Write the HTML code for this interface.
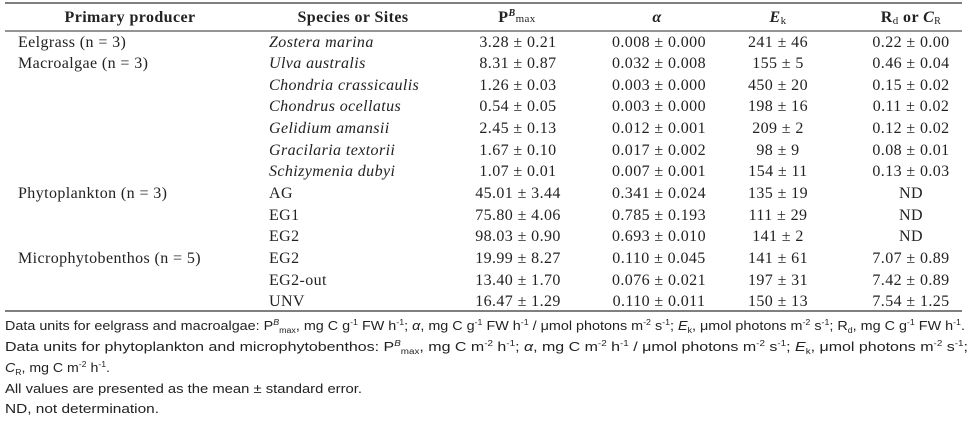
<!DOCTYPE html>
<html><head><meta charset="utf-8"><style>
html,body{margin:0;padding:0;background:#fff;width:976px;height:429px;overflow:hidden}
svg{display:block}
.s{font-family:"Liberation Serif",serif;font-size:16px;letter-spacing:0.4px;fill:#222}
.h{font-weight:bold}
.f{font-family:"Liberation Sans",sans-serif;font-size:13px;fill:#222}
</style></head><body>
<svg width="976" height="429" xmlns="http://www.w3.org/2000/svg">
<line x1="5" y1="3" x2="962" y2="3" stroke="#555" stroke-width="1.5"/>
<line x1="5" y1="31" x2="962" y2="31" stroke="#555" stroke-width="1.2"/>
<line x1="5" y1="311" x2="962" y2="311" stroke="#555" stroke-width="1.5"/>
<g class="s h">
<text x="130" y="22" text-anchor="middle">Primary producer</text>
<text x="353" y="22" text-anchor="middle">Species or Sites</text>
<text x="517" y="22" text-anchor="middle">P<tspan font-size="10" dy="-6" font-style="italic">B</tspan><tspan font-size="11" dy="6" font-weight="normal">max</tspan></text>
<text x="657" y="22" text-anchor="middle" font-style="italic">α</text>
<text x="778" y="22" text-anchor="middle"><tspan font-style="italic">E</tspan><tspan font-size="11" dy="2" font-weight="normal">k</tspan></text>
<text x="911" y="22" text-anchor="middle">R<tspan font-size="11" dy="2" font-weight="normal">d</tspan><tspan dy="-2"> or </tspan><tspan font-style="italic">C</tspan><tspan font-size="10" dy="2" font-weight="normal">R</tspan></text>
</g>
<g class="s">
<text x="18" y="47">Eelgrass (n = 3)</text>
<text x="18" y="68">Macroalgae (n = 3)</text>
<text x="18" y="198">Phytoplankton (n = 3)</text>
<text x="18" y="263">Microphytobenthos (n = 5)</text>
<g font-style="italic">
<text x="269" y="47">Zostera marina</text>
<text x="269" y="68">Ulva australis</text>
<text x="269" y="90">Chondria crassicaulis</text>
<text x="269" y="111">Chondrus ocellatus</text>
<text x="269" y="133">Gelidium amansii</text>
<text x="269" y="155">Gracilaria textorii</text>
<text x="269" y="176">Schizymenia dubyi</text>
</g>
<text x="269" y="198">AG</text>
<text x="269" y="220">EG1</text>
<text x="269" y="241">EG2</text>
<text x="269" y="263">EG2</text>
<text x="269" y="285">EG2-out</text>
<text x="269" y="306">UNV</text>
<g text-anchor="middle">
<text x="518" y="47">3.28 ± 0.21</text><text x="659" y="47">0.008 ± 0.000</text><text x="778" y="47">241 ± 46</text><text x="911" y="47">0.22 ± 0.00</text>
<text x="518" y="68">8.31 ± 0.87</text><text x="659" y="68">0.032 ± 0.008</text><text x="778" y="68">155 ± 5</text><text x="911" y="68">0.46 ± 0.04</text>
<text x="518" y="90">1.26 ± 0.03</text><text x="659" y="90">0.003 ± 0.000</text><text x="778" y="90">450 ± 20</text><text x="911" y="90">0.15 ± 0.02</text>
<text x="518" y="111">0.54 ± 0.05</text><text x="659" y="111">0.003 ± 0.000</text><text x="778" y="111">198 ± 16</text><text x="911" y="111">0.11 ± 0.02</text>
<text x="518" y="133">2.45 ± 0.13</text><text x="659" y="133">0.012 ± 0.001</text><text x="778" y="133">209 ± 2</text><text x="911" y="133">0.12 ± 0.02</text>
<text x="518" y="155">1.67 ± 0.10</text><text x="659" y="155">0.017 ± 0.002</text><text x="778" y="155">98 ± 9</text><text x="911" y="155">0.08 ± 0.01</text>
<text x="518" y="176">1.07 ± 0.01</text><text x="659" y="176">0.007 ± 0.001</text><text x="778" y="176">154 ± 11</text><text x="911" y="176">0.13 ± 0.03</text>
<text x="518" y="198">45.01 ± 3.44</text><text x="659" y="198">0.341 ± 0.024</text><text x="778" y="198">135 ± 19</text><text x="911" y="198">ND</text>
<text x="518" y="220">75.80 ± 4.06</text><text x="659" y="220">0.785 ± 0.193</text><text x="778" y="220">111 ± 29</text><text x="911" y="220">ND</text>
<text x="518" y="241">98.03 ± 0.90</text><text x="659" y="241">0.693 ± 0.010</text><text x="778" y="241">141 ± 2</text><text x="911" y="241">ND</text>
<text x="518" y="263">19.99 ± 8.27</text><text x="659" y="263">0.110 ± 0.045</text><text x="778" y="263">141 ± 61</text><text x="911" y="263">7.07 ± 0.89</text>
<text x="518" y="285">13.40 ± 1.70</text><text x="659" y="285">0.076 ± 0.021</text><text x="778" y="285">197 ± 31</text><text x="911" y="285">7.42 ± 0.89</text>
<text x="518" y="306">16.47 ± 1.29</text><text x="659" y="306">0.110 ± 0.011</text><text x="778" y="306">150 ± 13</text><text x="911" y="306">7.54 ± 1.25</text>
</g>
</g>
<g class="f">
<text x="5" y="330" textLength="960" lengthAdjust="spacingAndGlyphs">Data units for eelgrass and macroalgae: P<tspan font-size="8" dy="-5" font-style="italic">B</tspan><tspan font-size="8" dy="8">max</tspan><tspan dy="-3">, mg C g</tspan><tspan font-size="8" dy="-5">-1</tspan><tspan dy="5"> FW h</tspan><tspan font-size="8" dy="-5">-1</tspan><tspan dy="5">; </tspan><tspan font-style="italic">α</tspan>, mg C g<tspan font-size="8" dy="-5">-1</tspan><tspan dy="5"> FW h</tspan><tspan font-size="8" dy="-5">-1</tspan><tspan dy="5"> / μmol photons m</tspan><tspan font-size="8" dy="-5">-2</tspan><tspan dy="5"> s</tspan><tspan font-size="8" dy="-5">-1</tspan><tspan dy="5">; </tspan><tspan font-style="italic">E</tspan><tspan font-size="8" dy="3">k</tspan><tspan dy="-3">, μmol photons m</tspan><tspan font-size="8" dy="-5">-2</tspan><tspan dy="5"> s</tspan><tspan font-size="8" dy="-5">-1</tspan><tspan dy="5">; R</tspan><tspan font-size="8" dy="3">d</tspan><tspan dy="-3">, mg C g</tspan><tspan font-size="8" dy="-5">-1</tspan><tspan dy="5"> FW h</tspan><tspan font-size="8" dy="-5">-1</tspan><tspan dy="5">.</tspan></text>
<text x="5" y="351" textLength="963" lengthAdjust="spacingAndGlyphs">Data units for phytoplankton and microphytobenthos: P<tspan font-size="8" dy="-5" font-style="italic">B</tspan><tspan font-size="8" dy="8">max</tspan><tspan dy="-3">, mg C m</tspan><tspan font-size="8" dy="-5">-2</tspan><tspan dy="5"> h</tspan><tspan font-size="8" dy="-5">-1</tspan><tspan dy="5">; </tspan><tspan font-style="italic">α</tspan>, mg C m<tspan font-size="8" dy="-5">-2</tspan><tspan dy="5"> h</tspan><tspan font-size="8" dy="-5">-1</tspan><tspan dy="5"> / μmol photons m</tspan><tspan font-size="8" dy="-5">-2</tspan><tspan dy="5"> s</tspan><tspan font-size="8" dy="-5">-1</tspan><tspan dy="5">; </tspan><tspan font-style="italic">E</tspan><tspan font-size="8" dy="3">k</tspan><tspan dy="-3">, μmol photons m</tspan><tspan font-size="8" dy="-5">-2</tspan><tspan dy="5"> s</tspan><tspan font-size="8" dy="-5">-1</tspan><tspan dy="5">;</tspan></text>
<text x="5" y="372" textLength="105" lengthAdjust="spacingAndGlyphs"><tspan font-style="italic">C</tspan><tspan font-size="8" dy="3">R</tspan><tspan dy="-3">, mg C m</tspan><tspan font-size="8" dy="-5">-2</tspan><tspan dy="5"> h</tspan><tspan font-size="8" dy="-5">-1</tspan><tspan dy="5">.</tspan></text>
<text x="5" y="393" textLength="357" lengthAdjust="spacingAndGlyphs">All values are presented as the mean ± standard error.</text>
<text x="5" y="413" textLength="154" lengthAdjust="spacingAndGlyphs">ND, not determination.</text>
</g>
</svg>
</body></html>
